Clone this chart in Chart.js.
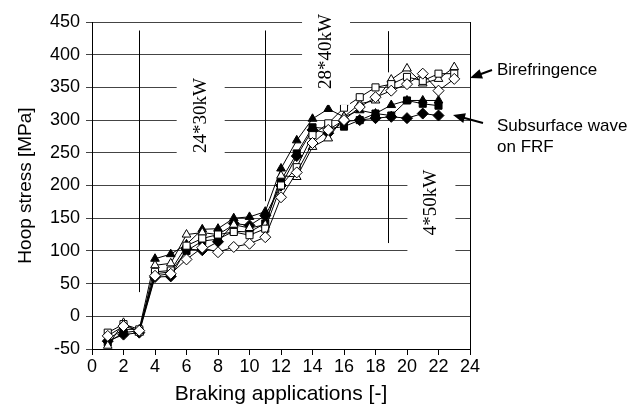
<!DOCTYPE html>
<html>
<head>
<meta charset="utf-8">
<script src="https://cdn.jsdelivr.net/npm/chart.js@4"></script>
<style>
  html, body { margin: 0; padding: 0; background: #fff; }
  #wrap { width: 638px; height: 411px; }
</style>
</head>
<body>
<div id="wrap"><canvas id="c"></canvas></div>
<script>
// braking applications 1..23
const applications = [1, 2, 3, 4, 5, 6, 7, 8, 9, 10, 11, 12, 13, 14, 15, 16, 17, 18, 19, 20, 21, 22, 23];

// Birefringence (open markers)
const biriTriangle = [-45, -10, -25, 78, 81, 125, 128, 125, 140, 135, 140, 215, 213, 259, 272, 305, 325, 330, 362, 379, 356, 363, 381];
const biriSquare   = [-25, -12, -20, 68, 70, 108, 119, 125, 129, 124, 134, 200, 228, 277, 295, 319, 335, 350, 355, 366, 360, 371, 371];
const biriDiamond  = [-30, -15, -22, 62, 65, 87, 105, 98, 106, 111, 121, 182, 220, 265, 285, 300, 320, 335, 345, 355, 371, 345, 363];

// Subsurface wave on FRF (filled markers)
const frfTriangle = [-35, -20, -20, 88, 95, 110, 133, 134, 150, 152, 160, 226, 269, 302, 317, 305, 315, 310, 323, 330, 330, 330];
const frfSquare   = [-40, -25, -22, 65, 68, 100, 115, 118, 130, 129, 142, 208, 249, 289, 287, 290, 300, 310, 307, 330, 325, 322];
const frfDiamond  = [-38, -28, -25, 60, 61, 103, 101, 114, 142, 139, 154, 200, 245, 285, 280, 298, 300, 303, 305, 303, 310, 307];

const yTicks = [-50, 0, 50, 100, 150, 200, 250, 300, 350, 400, 450];
const xTicks = [0, 2, 4, 6, 8, 10, 12, 14, 16, 18, 20, 22, 24];

// power level separators: [x, yFrom, yTo]
const separators = [[3, 37, 437], [11, 176, 437], [18.8, 373, 436], [18.8, 112, 288]];
// power level labels: [text, x, y]
const powerLabels = [['24*30kW', 6.9, 307], ['28*40kW', 14.86, 405], ['4*50kW', 21.55, 174]];

function pts(ys) {
    return ys.map(function (v, i) { return { x: applications[i], y: v }; });
}

function series(ys, shape, filled) {
    return {
        data: pts(ys),
        borderColor: '#000',
        borderWidth: 1,
        pointStyle: shape,
        pointRadius: shape === 'rectRot' ? 5.5 : 5,
        pointBackgroundColor: filled ? '#000' : '#fff',
        pointBorderColor: '#000',
        pointBorderWidth: 1,
        fill: false,
        tension: 0
    };
}

const annotations = {
    id: 'annotations',
    beforeDatasetsDraw(chart) {
        const ctx = chart.ctx, xs = chart.scales.x, ys = chart.scales.y, a = chart.chartArea;
        ctx.save();
        ctx.strokeStyle = '#000';
        ctx.lineWidth = 1;
        ctx.beginPath();
        ctx.moveTo(a.right + 0.5, a.top);
        ctx.lineTo(a.right + 0.5, a.bottom);
        ctx.stroke();
        separators.forEach(function (s) {
            const px = Math.round(xs.getPixelForValue(s[0])) + 0.5;
            ctx.beginPath();
            ctx.moveTo(px, ys.getPixelForValue(s[1]));
            ctx.lineTo(px, ys.getPixelForValue(s[2]));
            ctx.stroke();
        });
        ctx.restore();
    },
    afterDraw(chart) {
        const ctx = chart.ctx, xs = chart.scales.x, ys = chart.scales.y;
        ctx.save();
        ctx.font = '19px "Liberation Serif"';
        powerLabels.forEach(function (p) {
            const cx = xs.getPixelForValue(p[1]);
            const cy = ys.getPixelForValue(p[2]);
            const w = ctx.measureText(p[0]).width;
            ctx.fillStyle = '#fff';
            ctx.fillRect(cx - 24, cy - w / 2 - 16, 48, w + 32);
            ctx.save();
            ctx.translate(cx, cy);
            ctx.rotate(-Math.PI / 2);
            ctx.fillStyle = '#000';
            ctx.textAlign = 'center';
            ctx.textBaseline = 'middle';
            ctx.fillText(p[0], 0, 0);
            ctx.restore();
        });

        // side notes with arrows
        ctx.fillStyle = '#000';
        ctx.font = '17px "Liberation Sans"';
        ctx.textAlign = 'left';
        ctx.textBaseline = 'middle';
        ctx.fillText('Birefringence', 497, 70);
        ctx.fillText('Subsurface wave', 497, 126);
        ctx.fillText('on FRF', 497, 147);
        arrow(ctx, 492, 70, 470, 78);
        arrow(ctx, 483, 123, 453, 115);
        ctx.restore();
    }
};

function arrow(ctx, x1, y1, x2, y2) {
    const ang = Math.atan2(y2 - y1, x2 - x1);
    ctx.strokeStyle = '#000';
    ctx.lineWidth = 2;
    ctx.beginPath();
    ctx.moveTo(x1, y1);
    ctx.lineTo(x2 - 8 * Math.cos(ang), y2 - 8 * Math.sin(ang));
    ctx.stroke();
    ctx.beginPath();
    ctx.moveTo(x2, y2);
    ctx.lineTo(x2 - 12 * Math.cos(ang) + 5 * Math.sin(ang), y2 - 12 * Math.sin(ang) - 5 * Math.cos(ang));
    ctx.lineTo(x2 - 12 * Math.cos(ang) - 5 * Math.sin(ang), y2 - 12 * Math.sin(ang) + 5 * Math.cos(ang));
    ctx.closePath();
    ctx.fill();
}

new Chart(document.getElementById('c'), {
    type: 'line',
    data: {
        datasets: [
            series(biriDiamond, 'rectRot', false),
            series(biriSquare, 'rect', false),
            series(biriTriangle, 'triangle', false),
            series(frfDiamond, 'rectRot', true),
            series(frfSquare, 'rect', true),
            series(frfTriangle, 'triangle', true)
        ]
    },
    plugins: [annotations],
    options: {
        responsive: true,
        maintainAspectRatio: false,
        animation: false,
        layout: { padding: { top: 22, right: 168, left: 0, bottom: 0 } },
        plugins: { legend: { display: false }, tooltip: { enabled: false } },
        scales: {
            x: {
                type: 'linear',
                min: 0,
                max: 24,
                afterBuildTicks: function (s) { s.ticks = xTicks.map(function (v) { return { value: v }; }); },
                afterFit: function (s) { s.height = 62; },
                grid: { drawOnChartArea: false, color: '#000', tickLength: 6 },
                border: { color: '#000', width: 1 },
                ticks: { color: '#000', font: { family: 'Liberation Sans', size: 18 }, padding: 1, maxRotation: 0 },
                title: { display: true, text: 'Braking applications [-]', color: '#000', font: { family: 'Liberation Sans', size: 21 }, padding: { top: 2 } }
            },
            y: {
                min: -50,
                max: 450,
                afterBuildTicks: function (s) { s.ticks = yTicks.map(function (v) { return { value: v }; }); },
                afterFit: function (s) { s.width = 92; },
                grid: { color: '#444', tickLength: 6 },
                border: { color: '#000', width: 1 },
                ticks: { color: '#000', font: { family: 'Liberation Sans', size: 18 }, padding: 6 },
                title: { display: true, text: 'Hoop stress [MPa]', color: '#000', font: { family: 'Liberation Sans', size: 19 }, padding: { top: 14, bottom: 4 } }
            }
        }
    }
});
</script>
</body>
</html>
